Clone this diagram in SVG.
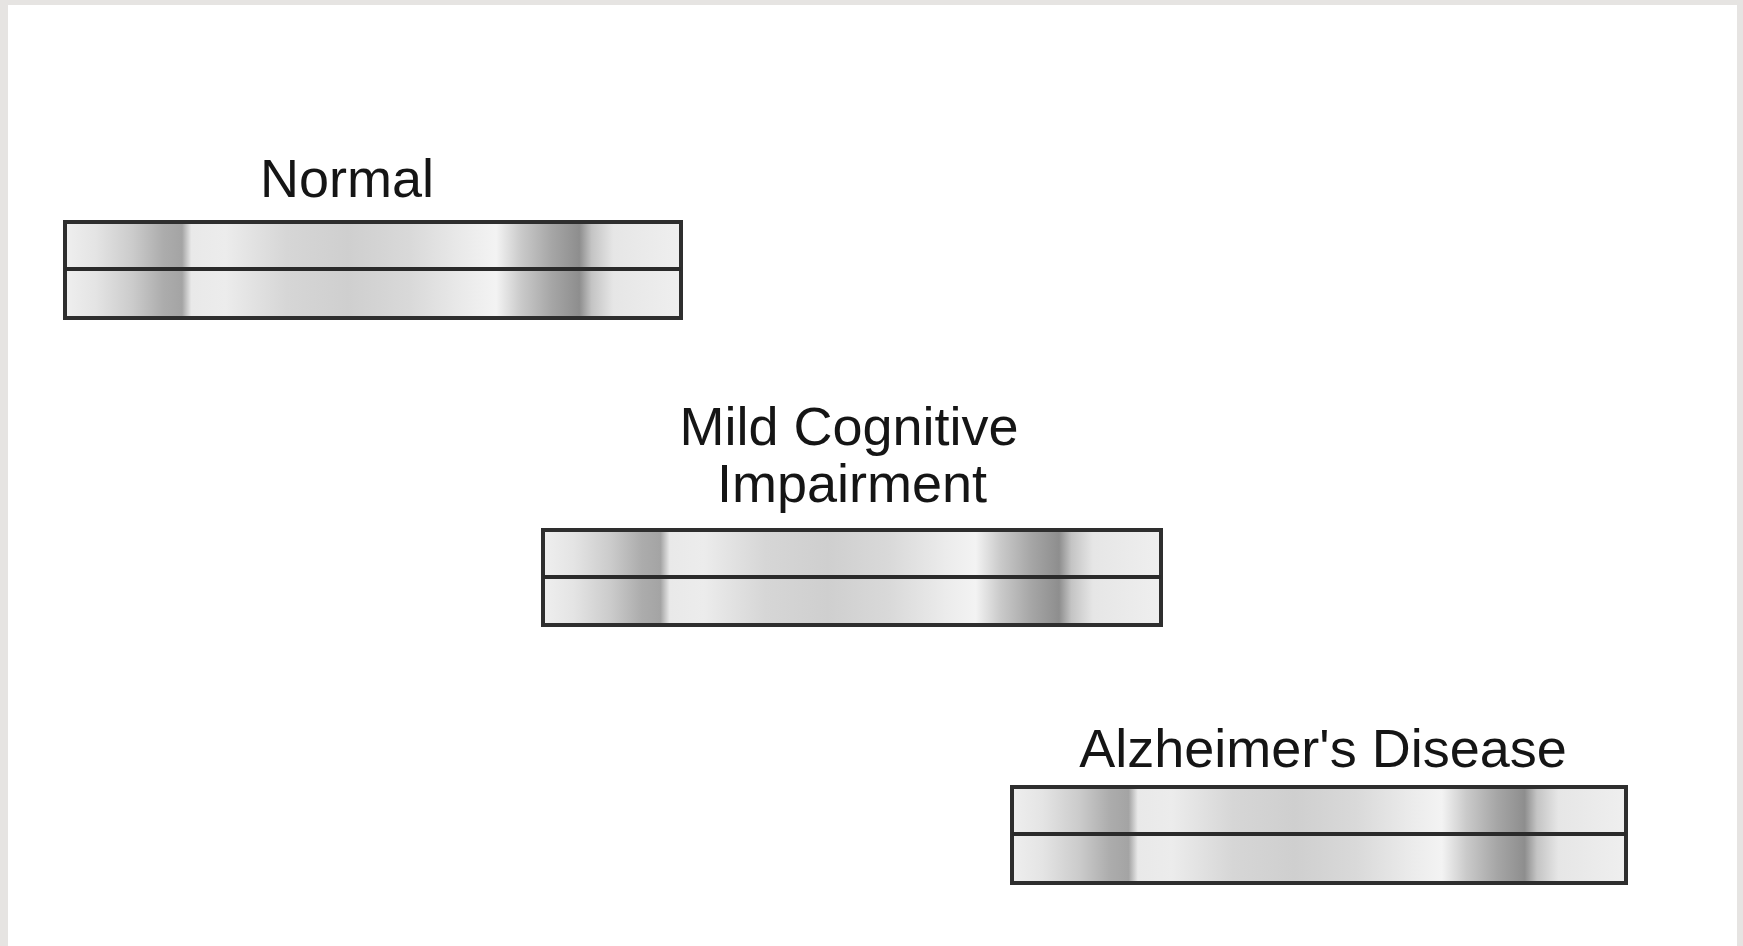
<svg xmlns="http://www.w3.org/2000/svg" width="1743" height="946" viewBox="0 0 1743 946">
  <style>
    .label { font-family: "Liberation Sans", Arial, sans-serif; font-size: 54px; fill: #151515; text-anchor: middle; }
    .bar { fill: url(#band); stroke: #2e2e2e; stroke-width: 4; }
    .divider { stroke: #2a2a2a; stroke-width: 4; }
  </style>
  <defs>
    <!-- greyscale intensity profile shared by all three strips -->
    <linearGradient id="band" x1="0" y1="0" x2="1" y2="0">
      <stop offset="0" stop-color="#efefef"/>
      <stop offset="0.05" stop-color="#e4e4e4"/>
      <stop offset="0.11" stop-color="#cbcbcb"/>
      <stop offset="0.16" stop-color="#acacac"/>
      <stop offset="0.19" stop-color="#a4a4a4"/>
      <stop offset="0.205" stop-color="#e9e9e9"/>
      <stop offset="0.26" stop-color="#ececec"/>
      <stop offset="0.36" stop-color="#d6d6d6"/>
      <stop offset="0.46" stop-color="#cfcfcf"/>
      <stop offset="0.56" stop-color="#d9d9d9"/>
      <stop offset="0.65" stop-color="#ebebeb"/>
      <stop offset="0.70" stop-color="#f3f3f3"/>
      <stop offset="0.74" stop-color="#cacaca"/>
      <stop offset="0.79" stop-color="#a6a6a6"/>
      <stop offset="0.835" stop-color="#8e8e8e"/>
      <stop offset="0.855" stop-color="#c4c4c4"/>
      <stop offset="0.89" stop-color="#e6e6e6"/>
      <stop offset="1" stop-color="#efefef"/>
    </linearGradient>
  </defs>

  <!-- page frame -->
  <rect x="0" y="0" width="1743" height="946" fill="#e6e4e2"/>
  <rect x="8" y="5" width="1729" height="941" fill="#ffffff"/>

  <g id="normal">
    <text class="label" x="347" y="197">Normal</text>
    <rect class="bar" x="65" y="222" width="616" height="96"/>
    <line class="divider" x1="65" y1="269" x2="681" y2="269"/>
  </g>

  <g id="mild-cognitive-impairment">
    <text class="label" x="849" y="445">Mild Cognitive</text>
    <text class="label" x="852" y="502">Impairment</text>
    <rect class="bar" x="543" y="530" width="618" height="95"/>
    <line class="divider" x1="543" y1="577" x2="1161" y2="577"/>
  </g>

  <g id="alzheimers-disease">
    <text class="label" x="1323" y="767">Alzheimer's Disease</text>
    <rect class="bar" x="1012" y="787" width="614" height="96"/>
    <line class="divider" x1="1012" y1="834" x2="1626" y2="834"/>
  </g>
</svg>
